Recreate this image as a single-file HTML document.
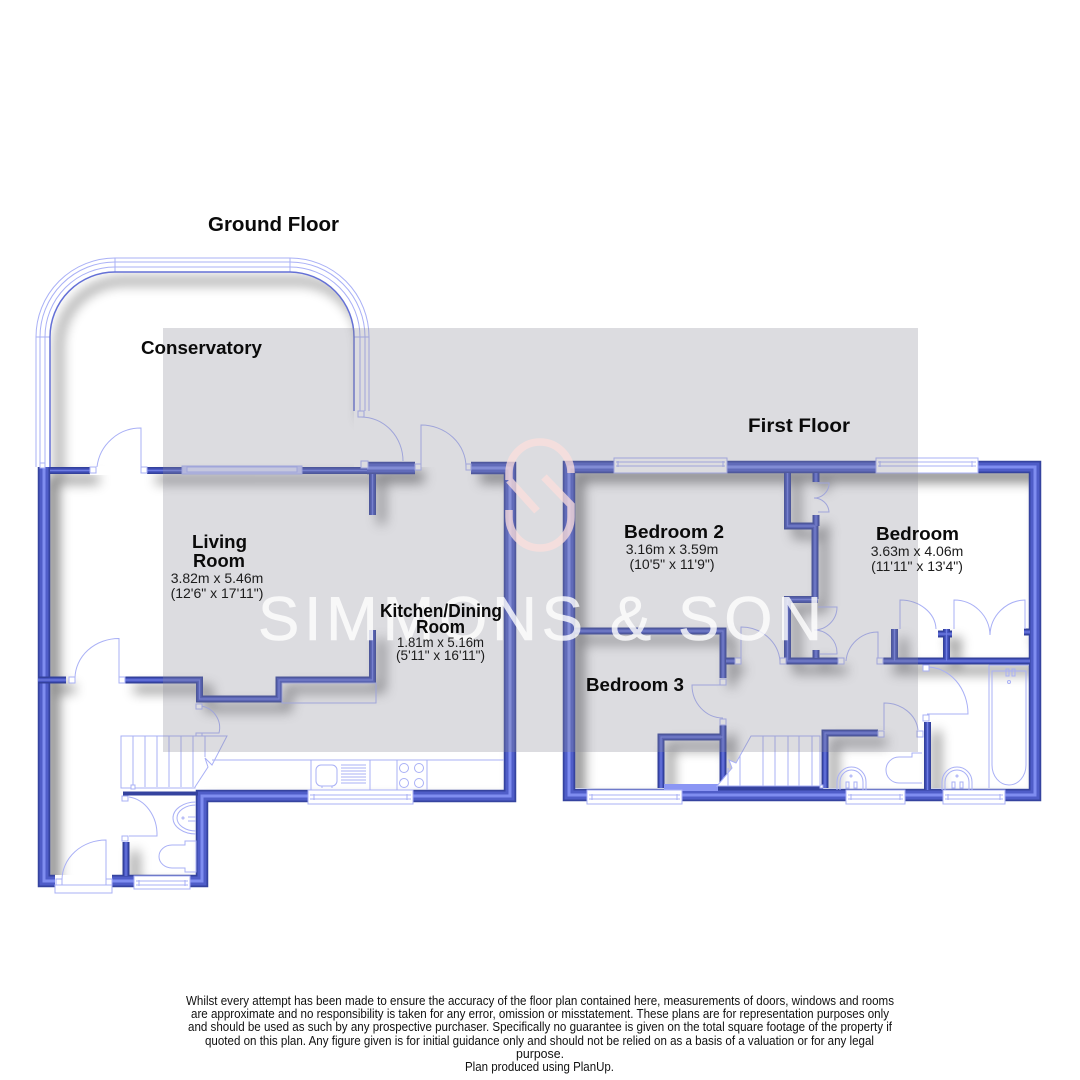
<!DOCTYPE html>
<html><head><meta charset="utf-8"><style>
html,body{margin:0;padding:0;background:#fff}
svg{display:block}
text{font-family:"Liberation Sans",sans-serif;fill:#0a0a0a}
.b{font-weight:bold;font-size:18px}
.d{font-size:14px;fill:#1c1c1c}
.f{font-size:12.5px;fill:#111}
.l{fill:none;stroke:#a9b0f6;stroke-width:1}
.j{fill:#fff;stroke:#a9b0f6;stroke-width:1}
.w{fill:#fff;stroke:#a9b0f6;stroke-width:1}
</style></head><body>
<svg width="1080" height="1080" viewBox="0 0 1080 1080" xmlns="http://www.w3.org/2000/svg">
<defs>
<g id="tk" fill="none">
<path d="M44 467V881H55M112 881H202V796H510V468H471M415 468H367"/>
<path d="M569 795V467H1035V795H569Z"/>
</g>
<g id="tn" fill="none">
<path d="M50 470.500H90M147 470.500H367M372.500 474V515"/>
<path d="M38 680H66M125 680H199.500V699H279V680H372.500V630"/>
<path d="M126 842V876"/>
<path d="M575 631H723V678M726 661H735M723 725V788M661 788V737H723"/>
<path d="M787.500 473V526H815M815 526V599M816 473V482M816 515V526M818 599.500H787.500V661H838M816 650V658"/>
<path d="M883 661H1030M894.500 629V661M946.500 629V661M938 634H952M1030 632H1024"/>
<path d="M825 788V733H878M927.500 722V790"/>
</g>
<filter id="bl" filterUnits="userSpaceOnUse" x="0" y="200" width="1080" height="720"><feGaussianBlur stdDeviation="6"/></filter>
<clipPath id="fl">
<path d="M50 474V337A65 65 0 0 1 115 272H290A65 65 0 0 1 354 337V467H504V790H197V875H50Z"/>
<rect x="575" y="473" width="454" height="315"/>
</clipPath>
</defs>

<!-- shadows -->
<g clip-path="url(#fl)">
<g filter="url(#bl)" transform="translate(9 9)" stroke="#000" opacity=".5">
<use href="#tk" stroke-width="12"/><use href="#tn" stroke-width="7"/>
<path d="M50 467V337A65 65 0 0 1 115 272H290A65 65 0 0 1 354 337V411" fill="none" stroke-width="6"/>
</g>
</g>

<!-- walls -->
<use href="#tk" stroke="#35439f" stroke-width="12.500"/>
<use href="#tk" stroke="#4f5dc8" stroke-width="9"/>
<use href="#tk" stroke="#7f8df0" stroke-width="3"/>
<use href="#tn" stroke="#33419c" stroke-width="7"/>
<use href="#tn" stroke="#4654bf" stroke-width="4"/>
<use href="#tn" stroke="#6f7de2" stroke-width="1.200"/>
<path d="M123 793.500H198" stroke="#35439f" stroke-width="4" fill="none"/>
<path d="M718 788H823" stroke="#35439f" stroke-width="3.500" fill="none"/>
<rect x="664" y="784" width="54" height="7" fill="#8b96f4"/>

<!-- conservatory -->
<g class="l">
<path d="M36 467V337A79 79 0 0 1 115 258H290A79 79 0 0 1 369 337V411"/>
<path d="M40 467V337A75 75 0 0 1 115 262H290A75 75 0 0 1 365 337V411"/>
<path d="M45 467V337A70 70 0 0 1 115 267H290A70 70 0 0 1 360 337V411"/>
<path d="M115 258V272M290 258V272M36 337H50M354 337H369"/>
</g>
<path d="M50 467V337A65 65 0 0 1 115 272H290A65 65 0 0 1 354 337V411" fill="none" stroke="#6470d6" stroke-width="1.500"/>
<rect class="j" x="40" y="463" width="5" height="5"/>
<rect class="j" x="358" y="411" width="6" height="6"/>

<!-- ground doors -->
<rect x="90" y="466" width="57" height="9" fill="#fff"/>
<g class="l">
<path d="M141 467V428A44 44 0 0 0 97 467"/>
<path d="M361 417A42 44 0 0 1 403 461"/>
<path d="M421 467V425A45 42 0 0 1 466 467"/>
<path d="M119 678V638.500A44 40 0 0 0 75 678"/>
<path d="M201 706A22 22 0 0 1 219 733H201"/>
<path d="M129 797A32 38 0 0 1 157 836H129"/>
<path d="M106 880V840A44 40 0 0 0 62 880"/>
<path d="M282 683H376V703H282Z"/>
</g>
<g class="j">
<rect x="90" y="467" width="6" height="6"/><rect x="141" y="467" width="6" height="6"/>
<rect x="361" y="461" width="7" height="7"/><rect x="415" y="464" width="6" height="6"/><rect x="466" y="464" width="5" height="6"/>
<rect x="69" y="677" width="6" height="6"/><rect x="119" y="677" width="6" height="6"/>
<rect x="196" y="704" width="6" height="5"/><rect x="196" y="733" width="6" height="5"/>
<rect x="122" y="796" width="6" height="5"/><rect x="122" y="836" width="6" height="5"/>
<rect x="56" y="879" width="6" height="6"/><rect x="106" y="879" width="6" height="6"/>
</g>
<rect class="w" x="55" y="885" width="57" height="8"/>
<!-- ground windows -->
<rect x="182" y="466" width="120" height="8" fill="#c6cbfa" stroke="#a9b0f6"/>
<rect x="187" y="467" width="110" height="5" fill="#dfe1fd" stroke="#a9b0f6"/>
<rect class="w" x="308" y="790" width="105" height="14"/>
<path class="l" d="M310 795H411M310 799H411M314 794V800M407 794V800"/>
<rect class="w" x="134" y="876" width="56" height="13"/>
<path class="l" d="M136 881H188M136 885H188M139 880V886M185 880V886"/>

<!-- stairs ground -->
<path d="M121 736H227L212 765L205 758L208 767L195 787V788H121Z" fill="#fff" stroke="#a9b0f6"/>
<path class="l" d="M133 736V787M145 736V787M157 736V787M169 736V787M181 736V787M193 736V787M205 736V757"/>
<rect class="j" x="131" y="785" width="4" height="4"/>
<!-- kitchen -->
<path class="l" d="M212 760H504M311 760V790M370 760V790M397 760V790M427 760V790"/>
<rect class="l" x="316" y="765" width="21" height="21" rx="5"/>
<path class="l" d="M341 765H366M341 768H366M341 771H366M341 774H366M341 777H366M341 780H366M341 783H366M322 786V788M332 786V788"/>
<g class="l">
<circle cx="404" cy="768" r="4.500"/><circle cx="419" cy="768" r="4.500"/><circle cx="404" cy="783" r="4.500"/><circle cx="419" cy="783" r="4.500"/>
</g>
<!-- ground WC -->
<g class="l">
<path d="M196 802A23 16 0 0 0 196 834"/>
<path d="M196 805A19 13 0 0 0 196 831"/>
<path d="M188 817H196M188 821H196"/>
<circle cx="183" cy="818" r="1"/>
<path d="M196 841H185V845H172A13 11.500 0 0 0 172 868H185V872H196Z"/>
</g>

<!-- first floor windows -->
<rect class="w" x="614" y="458" width="113" height="15"/>
<path class="l" d="M616 462H725M616 466H725M618 461V467M723 461V467"/>
<rect class="w" x="876" y="458" width="102" height="15"/>
<path class="l" d="M878 462H976M878 466H976M880 461V467M972 461V467"/>
<rect class="w" x="587" y="790" width="95" height="14"/>
<path class="l" d="M589 795H680M589 799H680M592 794V800M677 794V800"/>
<rect class="w" x="846" y="790" width="59" height="14"/>
<path class="l" d="M848 795H903M848 799H903M851 794V800M900 794V800"/>
<rect class="w" x="943" y="790" width="62" height="14"/>
<path class="l" d="M945 795H1003M945 799H1003M948 794V800M1000 794V800"/>

<!-- first floor doors -->
<g class="l">
<path d="M818 483H829V485A15 15 0 0 1 814 498A15 15 0 0 1 829 512H818"/>
<path d="M818 607H837A23 23 0 0 1 814 630A23 23 0 0 1 837 654H820"/>
<path d="M741 661V627A39 37 0 0 1 780 661"/>
<path d="M878 661V632A32 32 0 0 0 846 661"/>
<path d="M900 629V600A36 30 0 0 1 936 629"/>
<path d="M954 629V600A36 36 0 0 1 990 635A36 36 0 0 1 1025 600V629"/>
<path d="M720 685H692A31 33 0 0 0 723 718"/>
<path d="M884 730V703A34 30 0 0 1 918 730"/>
<path d="M927 667A41 47 0 0 1 968 714H927"/>
</g>
<g class="j">
<rect x="735" y="658" width="6" height="6"/><rect x="780" y="658" width="6" height="6"/>
<rect x="838" y="658" width="6" height="6"/><rect x="877" y="658" width="6" height="6"/>
<rect x="720" y="679" width="6" height="6"/><rect x="720" y="719" width="6" height="6"/>
<rect x="878" y="731" width="6" height="6"/><rect x="917" y="731" width="6" height="6"/>
<rect x="923" y="665" width="6" height="6"/><rect x="923" y="715" width="6" height="6"/>
</g>
<!-- first stairs -->
<path d="M751 736H820V786H717L732 768L729 760L736 763Z" fill="#fff" stroke="#a9b0f6"/>
<path class="l" d="M763 736V786M775 736V786M788 736V786M799 736V786M812 736V786M728 786V768M740 786V756"/>
<rect class="j" x="820" y="785" width="3" height="3"/>
<!-- bath -->
<path class="l" d="M989 665H1029M989 665V788"/>
<path class="l" d="M992 671H1026V765A17 20 0 0 1 992 765Z"/>
<path class="l" d="M1006 669H1009V676H1006ZM1012 669H1015V676H1012Z"/>
<circle class="l" cx="1009" cy="682" r="1.500"/>
<!-- basins/toilet first -->
<g class="l">
<path d="M837 790V782A14.500 15 0 0 1 866 782V790"/>
<path d="M840 790V782A11.500 12 0 0 1 863 782V790"/>
<path d="M846 788V782H849V788ZM854 788V782H857V788Z"/>
<circle cx="851" cy="776" r="1"/>
<path d="M942 790V782A15 15 0 0 1 972 782V790"/>
<path d="M945 790V782A12 12 0 0 1 969 782V790"/>
<path d="M952 788V782H955V788ZM960 788V782H963V788Z"/>
<circle cx="957" cy="776" r="1"/>
<path d="M922 753H912V757H899A13 13 0 0 0 899 783H912V783H922"/>
</g>

<!-- overlay + watermark -->
<rect x="163" y="328" width="755" height="424" fill="#8b8a99" opacity=".3"/>
<g fill="none" stroke="#fddfdc" stroke-width="7.500" opacity=".75">
<path d="M509 480V473A31 31 0 0 1 571 473"/>
<path d="M509 480L537 511"/>
<path d="M544 477L571 505V517A31 31 0 0 1 509 517V510"/>
</g>
<text x="258" y="640" textLength="564" style="font-size:62px;fill:#fff;stroke:#fff;stroke-width:.6;opacity:.8">SIMMONS &amp; SON</text>

<!-- labels -->
<text x="208" y="231" textLength="131" lengthAdjust="spacingAndGlyphs" style="font-weight:bold;font-size:20px">Ground Floor</text>
<text x="748" y="432" textLength="102" lengthAdjust="spacingAndGlyphs" style="font-weight:bold;font-size:19px">First Floor</text>
<text x="141" y="354" textLength="121" lengthAdjust="spacingAndGlyphs" class="b">Conservatory</text>
<text x="192" y="548" textLength="55" lengthAdjust="spacingAndGlyphs" class="b">Living</text>
<text x="193" y="567" textLength="52" lengthAdjust="spacingAndGlyphs" class="b">Room</text>
<text x="217" y="583" text-anchor="middle" class="d">3.82m x 5.46m</text>
<text x="217" y="598" text-anchor="middle" class="d">(12'6" x 17'11")</text>
<text x="380" y="617" textLength="122" lengthAdjust="spacingAndGlyphs" class="b">Kitchen/Dining</text>
<text x="416" y="633" textLength="49" lengthAdjust="spacingAndGlyphs" class="b">Room</text>
<text x="397" y="647" textLength="87" lengthAdjust="spacingAndGlyphs" class="d">1.81m x 5.16m</text>
<text x="396" y="660" textLength="89" lengthAdjust="spacingAndGlyphs" class="d">(5'11" x 16'11")</text>
<text x="624" y="538" textLength="100" lengthAdjust="spacingAndGlyphs" class="b">Bedroom 2</text>
<text x="672" y="554" text-anchor="middle" class="d">3.16m x 3.59m</text>
<text x="672" y="569" text-anchor="middle" class="d">(10'5" x 11'9")</text>
<text x="876" y="540" textLength="83" lengthAdjust="spacingAndGlyphs" class="b">Bedroom</text>
<text x="917" y="556" text-anchor="middle" class="d">3.63m x 4.06m</text>
<text x="917" y="571" text-anchor="middle" class="d">(11'11" x 13'4")</text>
<text x="586" y="691" textLength="98" lengthAdjust="spacingAndGlyphs" class="b">Bedroom 3</text>

<!-- footer -->
<text class="f" x="186" y="1005" textLength="708" lengthAdjust="spacingAndGlyphs">Whilst every attempt has been made to ensure the accuracy of the floor plan contained here, measurements of doors, windows and rooms</text>
<text class="f" x="191" y="1018" textLength="698" lengthAdjust="spacingAndGlyphs">are approximate and no responsibility is taken for any error, omission or misstatement. These plans are for representation purposes only</text>
<text class="f" x="188" y="1031" textLength="704" lengthAdjust="spacingAndGlyphs">and should be used as such by any prospective purchaser. Specifically no guarantee is given on the total square footage of the property if</text>
<text class="f" x="205" y="1045" textLength="669" lengthAdjust="spacingAndGlyphs">quoted on this plan. Any figure given is for initial guidance only and should not be relied on as a basis of a valuation or for any legal</text>
<text class="f" x="516" y="1058" textLength="48" lengthAdjust="spacingAndGlyphs">purpose.</text>
<text class="f" x="465" y="1071" textLength="149" lengthAdjust="spacingAndGlyphs">Plan produced using PlanUp.</text>
</svg>
</body></html>
